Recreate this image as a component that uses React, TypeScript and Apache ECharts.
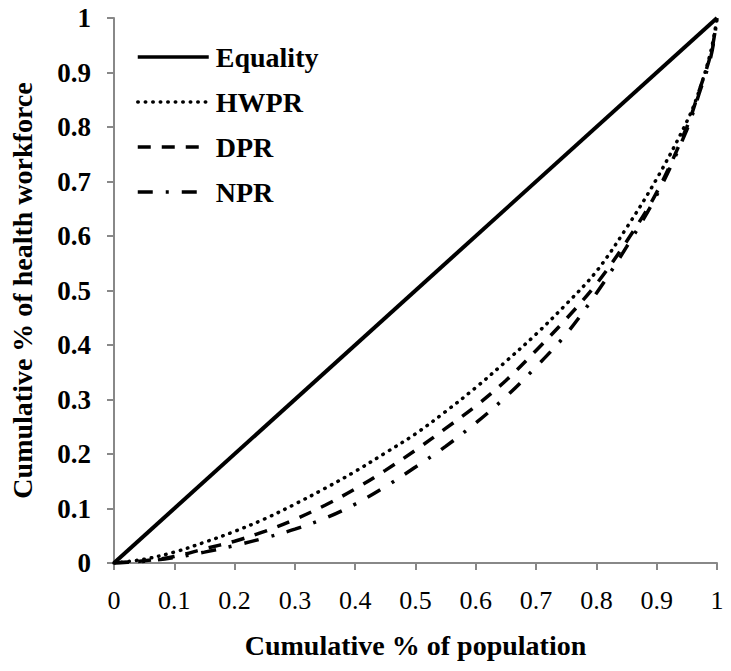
import React, { useEffect, useRef } from "react";
import * as echarts from "echarts";

const xPop = [0, 0.05, 0.1, 0.15, 0.2, 0.25, 0.3, 0.35, 0.4, 0.45, 0.5, 0.55, 0.6, 0.65, 0.7, 0.75, 0.8, 0.85, 0.9, 0.95, 0.97, 0.99, 1];
const equality = [[0, 0], [1, 1]];
const hwpr = [0, 0.007, 0.02, 0.038, 0.058, 0.081, 0.108, 0.137, 0.168, 0.202, 0.237, 0.278, 0.322, 0.37, 0.42, 0.475, 0.535, 0.615, 0.705, 0.81, 0.865, 0.94, 1];
const dpr = [0, 0.004, 0.012, 0.026, 0.04, 0.058, 0.08, 0.106, 0.136, 0.17, 0.207, 0.247, 0.288, 0.335, 0.39, 0.448, 0.512, 0.59, 0.68, 0.8, 0.865, 0.935, 1];
const npr = [0, 0.003, 0.01, 0.02, 0.032, 0.046, 0.062, 0.082, 0.108, 0.14, 0.176, 0.214, 0.257, 0.305, 0.36, 0.42, 0.495, 0.58, 0.675, 0.795, 0.86, 0.93, 1];
const seriesNames = ["Equality", "HWPR", "DPR", "NPR"];

const pair = (ys: number[]) => xPop.map((x, i) => [x, ys[i]]);

export default function App() {
  const ref = useRef<HTMLDivElement>(null);
  useEffect(() => {
    if (!ref.current) return;
    const chart = echarts.init(ref.current, undefined, { renderer: "svg" });
    const font = "'Liberation Serif', 'Times New Roman', serif";
    const axisColor = "#888888";
    chart.setOption({
      animation: false,
      backgroundColor: "#ffffff",
      grid: { left: 112, right: 14, top: 18, bottom: 108, containLabel: false },
      legend: {
        data: seriesNames,
        orient: "vertical",
        left: 136,
        top: 42,
        padding: 0,
        itemWidth: 71,
        itemHeight: 14,
        itemGap: 15,
        itemStyle: { color: "rgba(0,0,0,0)", borderWidth: 0, opacity: 0 },
        lineStyle: { width: 3.5 },
        textStyle: { fontFamily: font, fontWeight: "bold", fontSize: 28, color: "#000", lineHeight: 30, padding: [0, 0, 0, 2] },
      },
      xAxis: {
        type: "value",
        min: 0,
        max: 1,
        interval: 0.1,
        name: "Cumulative % of population",
        nameLocation: "middle",
        nameGap: 68,
        nameTextStyle: { fontFamily: font, fontWeight: "bold", fontSize: 28, color: "#000" },
        axisLine: { show: true, lineStyle: { color: axisColor, width: 2 } },
        axisTick: { show: true, length: 7, lineStyle: { color: axisColor, width: 2 } },
        axisLabel: { margin: 24, fontFamily: font, fontSize: 26, color: "#000" },
        splitLine: { show: false },
      },
      yAxis: {
        type: "value",
        min: 0,
        max: 1,
        interval: 0.1,
        name: "Cumulative % of health workforce",
        nameLocation: "middle",
        nameGap: 78,
        nameTextStyle: { fontFamily: font, fontWeight: "bold", fontSize: 28, color: "#000" },
        axisLine: { show: true, lineStyle: { color: axisColor, width: 2 } },
        axisTick: { show: true, length: 7, lineStyle: { color: axisColor, width: 2 } },
        axisLabel: { margin: 23, fontFamily: font, fontWeight: "bold", fontSize: 27, color: "#000" },
        splitLine: { show: false },
      },
      series: [
        {
          name: "Equality",
          type: "line",
          data: equality,
          symbol: "none",
          lineStyle: { color: "#000", width: 4, type: "solid" },
          itemStyle: { color: "#000" },
        },
        {
          name: "HWPR",
          type: "line",
          data: pair(hwpr),
          symbol: "none",
          smooth: 0.35,
          lineStyle: { color: "#000", width: 3.5, type: [0.5, 7], cap: "round" },
          itemStyle: { color: "#000" },
        },
        {
          name: "DPR",
          type: "line",
          data: pair(dpr),
          symbol: "none",
          smooth: 0.35,
          lineStyle: { color: "#000", width: 3.5, type: [13, 11] },
          itemStyle: { color: "#000" },
        },
        {
          name: "NPR",
          type: "line",
          data: pair(npr),
          symbol: "none",
          smooth: 0.35,
          lineStyle: { color: "#000", width: 3.5, type: [15, 13, 3, 13] },
          itemStyle: { color: "#000" },
        },
      ],
    });
    return () => chart.dispose();
  }, []);
  return <div ref={ref} style={{ position: "absolute", left: 0, top: 0, width: 731, height: 671 }} />;
}
